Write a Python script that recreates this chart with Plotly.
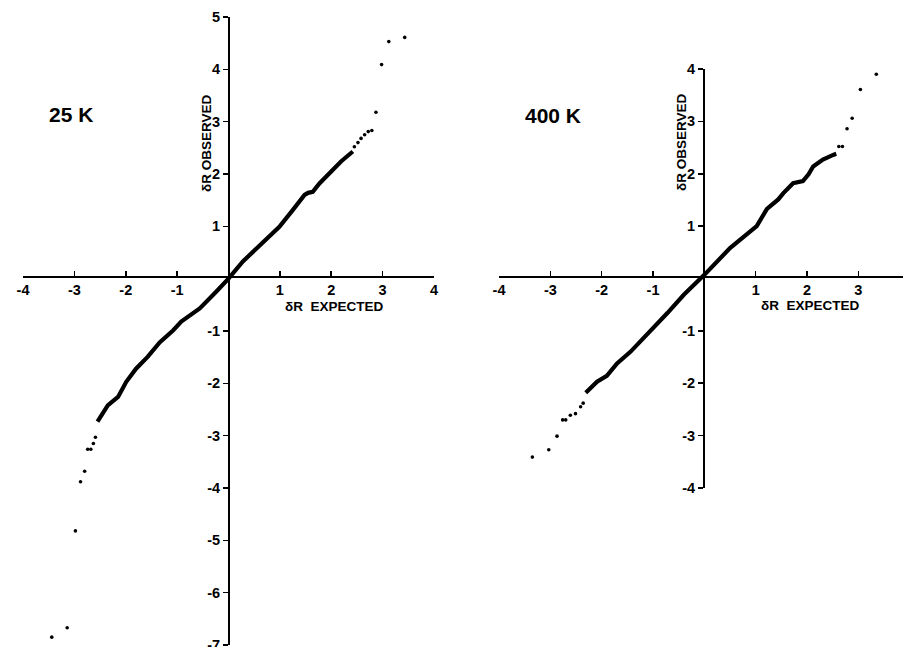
import plotly.graph_objects as go

# ---------------- data ----------------
# 25 K panel: dense part of the probability plot (drawn as a thick trace)
k25_curve_x = [-2.55, -2.45, -2.35, -2.15, -1.99, -1.80, -1.57, -1.34, -1.08, -0.92,
               -0.56, -0.24, 0.00, 0.28, 0.60, 0.99, 1.25, 1.48, 1.55, 1.64, 1.77,
               1.96, 2.19, 2.42]
k25_curve_y = [-2.73, -2.58, -2.42, -2.26, -1.97, -1.72, -1.49, -1.22, -0.99, -0.82,
               -0.57, -0.25, 0.00, 0.33, 0.64, 0.99, 1.31, 1.60, 1.64, 1.66, 1.82,
               2.01, 2.24, 2.43]
# 25 K panel: isolated tail points
k25_tail_x = [2.45, 2.52, 2.58, 2.65, 2.72, 2.79, 2.87, 2.98, 3.12, 3.43,
              -2.59, -2.63, -2.68, -2.74, -2.80, -2.88, -2.98, -3.14, -3.44]
k25_tail_y = [2.52, 2.60, 2.68, 2.75, 2.81, 2.83, 3.18, 4.09, 4.53, 4.61,
              -3.03, -3.15, -3.26, -3.26, -3.68, -3.88, -4.82, -6.67, -6.85]

# 400 K panel
k400_curve_x = [-2.31, -2.15, -2.09, -1.90, -1.70, -1.44, -1.11, -0.86, -0.72, -0.40,
                0.00, 0.50, 1.02, 1.22, 1.44, 1.54, 1.73, 1.92, 2.03, 2.12, 2.31,
                2.51, 2.57]
k400_curve_y = [-2.18, -2.02, -1.97, -1.86, -1.62, -1.40, -1.06, -0.82, -0.66, -0.31,
                0.07, 0.58, 1.00, 1.33, 1.51, 1.63, 1.82, 1.86, 1.99, 2.14, 2.27,
                2.36, 2.38]
k400_tail_x = [2.62, 2.69, 2.78, 2.88, 3.04, 3.35,
               -2.36, -2.41, -2.51, -2.61, -2.70, -2.76, -2.87, -3.03, -3.35]
k400_tail_y = [2.52, 2.52, 2.86, 3.06, 3.61, 3.90,
               -2.38, -2.45, -2.58, -2.61, -2.70, -2.70, -3.01, -3.27, -3.41]

# tick values / labels
k25_xticks = [-4, -3, -2, -1, 1, 2, 3, 4]
k25_yticks = [-7, -6, -5, -4, -3, -2, -1, 1, 2, 3, 4, 5]
k400_xticks = [-4, -3, -2, -1, 1, 2, 3]
k400_yticks = [-4, -3, -2, -1, 1, 2, 3, 4]

panel_titles = ["25 K", "400 K"]
x_title = "δR\u00a0 EXPECTED"
y_title = "δR OBSERVED"

# ---------------- figure ----------------
W, H = 903, 647
FONT = "Liberation Sans, Arial, Helvetica, sans-serif"


def px(x):
    return x / W


def py(y):
    return 1 - y / H


def lab(v):
    return "<b>" + str(v) + "</b>"


fig = go.Figure()

for cx, cy, tx, ty, xa, ya in [
    (k25_curve_x, k25_curve_y, k25_tail_x, k25_tail_y, "x", "y"),
    (k400_curve_x, k400_curve_y, k400_tail_x, k400_tail_y, "x2", "y2"),
]:
    fig.add_trace(go.Scatter(x=cx, y=cy, mode="lines", xaxis=xa, yaxis=ya,
                             line=dict(color="black", width=4.2), showlegend=False,
                             hoverinfo="skip"))
    fig.add_trace(go.Scatter(x=tx, y=ty, mode="markers", xaxis=xa, yaxis=ya,
                             marker=dict(color="black", size=3.6, symbol="circle"),
                             showlegend=False, cliponaxis=False, hoverinfo="skip"))

tickfont = dict(family=FONT, size=14.5, color="black")
common_x = dict(showgrid=False, zeroline=False, showline=True, linecolor="black",
                linewidth=2, ticks="inside", ticklen=5, tickwidth=1.6,
                tickcolor="black", tickfont=tickfont, anchor="free", side="bottom",
                automargin=False, fixedrange=True, ticklabeloverflow="allow")
common_y = dict(showgrid=False, zeroline=False, showline=True, linecolor="black",
                linewidth=2, ticks="outside", ticklen=5, tickwidth=1.6,
                tickcolor="black", tickfont=tickfont, anchor="free", side="left",
                automargin=False, fixedrange=True, ticklabeloverflow="allow")

fig.update_layout(
    template="none",
    width=W, height=H,
    margin=dict(l=0, r=0, t=0, b=0, pad=0),
    font=dict(family=FONT, size=14, color="black"),
    paper_bgcolor="white", plot_bgcolor="white",
    showlegend=False,
    xaxis=dict(common_x, range=[-4, 4], domain=[px(23), px(434)],
               tickvals=k25_xticks, ticktext=[lab(v) for v in k25_xticks],
               position=py(277)),
    yaxis=dict(common_y, range=[-7, 5], domain=[py(645), py(17)],
               tickvals=k25_yticks, ticktext=[lab(v) for v in k25_yticks],
               position=px(229)),
    xaxis2=dict(common_x, range=[-4, 3.87], domain=[px(499), 1.0],
                tickvals=k400_xticks, ticktext=[lab(v) for v in k400_xticks],
                position=py(277)),
    yaxis2=dict(common_y, range=[-4, 4], domain=[py(488), py(69)],
                tickvals=k400_yticks, ticktext=[lab(v) for v in k400_yticks],
                position=px(704)),
)

ann_font_big = dict(family=FONT, size=21, color="black")
ann_font_small = dict(family=FONT, size=13.5, color="black")
annotations = [
    dict(text="<b>" + panel_titles[0] + "</b>", x=px(71), y=py(114), font=ann_font_big),
    dict(text="<b>" + panel_titles[1] + "</b>", x=px(553), y=py(115), font=ann_font_big),
    dict(text="<b>" + y_title + "</b>", x=px(207), y=py(144), font=ann_font_small,
         textangle=-90),
    dict(text="<b>" + y_title + "</b>", x=px(682), y=py(143), font=ann_font_small,
         textangle=-90),
    dict(text="<b>" + x_title + "</b>", x=px(334), y=py(306), font=ann_font_small),
    dict(text="<b>" + x_title + "</b>", x=px(810), y=py(305), font=ann_font_small),
]
for a in annotations:
    fig.add_annotation(xref="paper", yref="paper", showarrow=False,
                       xanchor="center", yanchor="middle", **a)

fig.write_html("out.html",
               config={"displayModeBar": False, "staticPlot": True},
               post_script="document.body.style.margin='0';"
                           "document.body.style.overflow='hidden';")
